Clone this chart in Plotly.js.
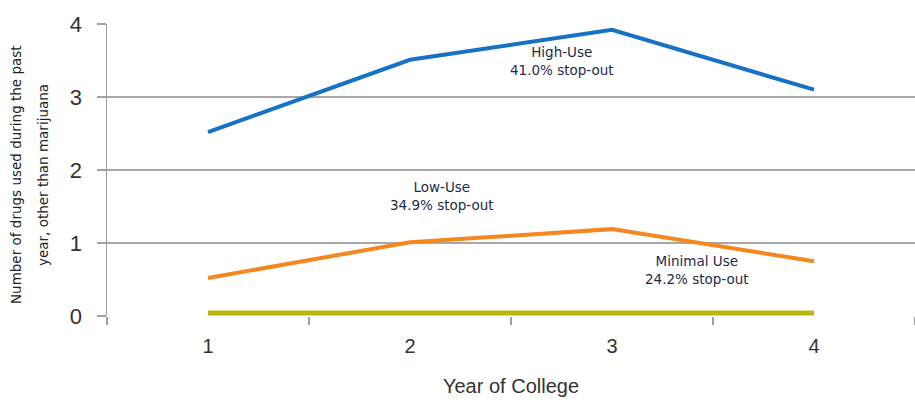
<!DOCTYPE html>
<html><head><meta charset="utf-8">
<script src="https://cdn.plot.ly/plotly-3.0.1.min.js"></script>
<style>html,body{margin:0;padding:0;background:#fff}#chart{width:915px;height:403px}</style>
</head><body><div id="chart"></div>
<script>
const years = ['1','2','3','4'];
const highUse = [2.52, 3.51, 3.92, 3.10];
const lowUse = [0.52, 1.01, 1.19, 0.75];
const minimalUse = [0.04, 0.04, 0.04, 0.04];
const yTicks = [0,1,2,3,4];

const labelHigh = 'High-Use<br>41.0% stop-out';
const labelLow = 'Low-Use<br>34.9% stop-out';
const labelMin = 'Minimal Use<br>24.2% stop-out';
const yTitle1 = 'Number of drugs used during the past';
const yTitle2 = 'year, other than marijuana';

const tickFont = "'Liberation Sans Narrow', 'Liberation Sans', Arial, sans-serif";
const annFont = "'DejaVu Sans', sans-serif";
const yTitleFont = {family: annFont, size: 13.5, color: '#222'};

const traces = [
  {x: years, y: minimalUse, mode: 'lines', line: {color: '#bdb40f', width: 5}, hoverinfo: 'skip'},
  {x: years, y: lowUse, mode: 'lines', line: {color: '#f5871f', width: 4}, hoverinfo: 'skip'},
  {x: years, y: highUse, mode: 'lines', line: {color: '#1672c4', width: 4}, hoverinfo: 'skip'}
];

const layout = {
  width: 915, height: 403,
  margin: {l: 107, r: 0, t: 24, b: 87},
  showlegend: false,
  paper_bgcolor: '#fff', plot_bgcolor: '#fff',
  xaxis: {
    type: 'category', range: [-0.5, 3.5], tickson: 'boundaries',
    ticks: 'outside', ticklen: 8, tickcolor: '#a0a0a0', tickwidth: 1.5,
    ticklabelstandoff: 16,
    showgrid: false, zeroline: false, showline: false,
    tickfont: {family: tickFont, size: 20, color: '#333'},
    title: {text: 'Year of College', font: {family: "'Liberation Sans', Arial, sans-serif", size: 20, color: '#333'}, standoff: 22}
  },
  yaxis: {
    range: [0, 4], tickvals: yTicks, ticktext: yTicks.map(String),
    ticks: 'outside', ticklen: 9, tickcolor: '#a0a0a0', tickwidth: 1.5,
    ticklabelstandoff: 10,
    showgrid: true, gridcolor: '#a8a8a8', gridwidth: 1.5,
    zeroline: false, showline: true, linecolor: '#a0a0a0', linewidth: 1.5,
    tickfont: {family: tickFont, size: 22, color: '#333'}
  },
  annotations: [
    {x: 16, y: 175, xref: 'paper', yref: 'paper', xanchor: 'center', yanchor: 'middle', text: yTitle1, textangle: -90, showarrow: false, font: yTitleFont},
    {x: 43, y: 175, xref: 'paper', yref: 'paper', xanchor: 'center', yanchor: 'middle', text: yTitle2, textangle: -90, showarrow: false, font: yTitleFont},
    {x: 1.75, y: 3.49, xref: 'x', yref: 'y', text: labelHigh, showarrow: false, font: {family: annFont, size: 13.5, color: '#1e2a48'}},
    {x: 1.16, y: 1.64, xref: 'x', yref: 'y', text: labelLow, showarrow: false, font: {family: annFont, size: 13.5, color: '#1e2a48'}},
    {x: 2.42, y: 0.63, xref: 'x', yref: 'y', text: labelMin, showarrow: false, font: {family: annFont, size: 13.5, color: '#1e2a48'}}
  ]
};
// convert pixel positions for y-title annotations to paper coordinates
const plotW = layout.width - layout.margin.l - layout.margin.r;
const plotH = layout.height - layout.margin.t - layout.margin.b;
layout.annotations.slice(0, 2).forEach(a => {
  a.x = (a.x - layout.margin.l) / plotW;
  a.y = (layout.height - layout.margin.b - a.y) / plotH;
});

Plotly.newPlot('chart', traces, layout, {displayModeBar: false, staticPlot: true});
</script></body></html>
